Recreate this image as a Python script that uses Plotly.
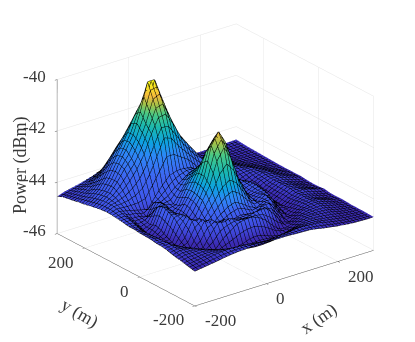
import plotly.graph_objects as go

x_m = [-200,-180,-160,-140,-120,-100,-80,-60,-40,-20,0,20,40,60,80,100,120,140,160,180,200,220,240,260,280,300]
y_m = [-200,-180,-160,-140,-120,-100,-80,-60,-40,-20,0,20,40,60,80,100,120,140,160,180,200,220,240,260,280,300]
power_dbm = [
[-44.65,-44.61,-44.57,-44.53,-44.48,-44.44,-44.41,-44.40,-44.38,-44.38,-44.38,-44.39,-44.39,-44.39,-44.41,-44.42,-44.43,-44.47,-44.53,-44.57,-44.62,-44.65,-44.68,-44.69,-44.70,-44.70],
[-44.60,-44.55,-44.51,-44.45,-44.40,-44.38,-44.37,-44.38,-44.40,-44.45,-44.48,-44.50,-44.47,-44.44,-44.42,-44.40,-44.39,-44.42,-44.44,-44.50,-44.56,-44.61,-44.65,-44.67,-44.69,-44.69],
[-44.55,-44.51,-44.47,-44.44,-44.43,-44.46,-44.52,-44.65,-44.72,-44.76,-44.79,-44.79,-44.77,-44.74,-44.68,-44.58,-44.50,-44.46,-44.45,-44.48,-44.52,-44.56,-44.62,-44.65,-44.68,-44.68],
[-44.51,-44.43,-44.43,-44.42,-44.47,-44.57,-44.72,-44.80,-44.76,-44.69,-44.59,-44.56,-44.62,-44.74,-44.81,-44.77,-44.68,-44.52,-44.46,-44.45,-44.47,-44.50,-44.57,-44.63,-44.66,-44.68],
[-44.46,-44.38,-44.41,-44.46,-44.59,-44.75,-44.75,-44.44,-44.24,-44.03,-43.96,-43.94,-44.04,-44.24,-44.54,-44.76,-44.76,-44.63,-44.50,-44.46,-44.44,-44.45,-44.53,-44.59,-44.65,-44.68],
[-44.40,-44.36,-44.44,-44.55,-44.74,-44.73,-44.32,-43.96,-43.88,-43.94,-44.05,-44.08,-43.99,-43.90,-44.00,-44.31,-44.68,-44.76,-44.60,-44.47,-44.44,-44.40,-44.47,-44.55,-44.63,-44.66],
[-44.36,-44.34,-44.48,-44.68,-44.75,-44.32,-43.88,-43.92,-44.23,-44.25,-44.16,-44.09,-44.13,-44.21,-44.00,-43.98,-44.33,-44.70,-44.72,-44.57,-44.44,-44.40,-44.43,-44.53,-44.61,-44.65],
[-44.35,-44.35,-44.57,-44.75,-44.48,-43.92,-43.90,-44.31,-44.23,-44.00,-43.80,-43.70,-43.85,-44.05,-44.17,-44.02,-44.03,-44.46,-44.74,-44.62,-44.46,-44.41,-44.48,-44.56,-44.63,-44.66],
[-44.31,-44.34,-44.64,-44.69,-44.15,-43.82,-44.22,-44.32,-43.95,-43.55,-43.15,-42.95,-43.15,-43.60,-44.00,-44.13,-43.96,-44.21,-44.64,-44.69,-44.51,-44.39,-44.45,-44.53,-44.61,-44.65],
[-44.30,-44.37,-44.66,-44.58,-43.92,-43.87,-44.36,-44.12,-43.60,-43.10,-42.25,-41.80,-42.30,-43.15,-43.75,-44.17,-44.04,-44.07,-44.53,-44.72,-44.54,-44.41,-44.39,-44.45,-44.54,-44.61],
[-44.29,-44.37,-44.67,-44.45,-43.81,-43.95,-44.36,-43.92,-43.50,-42.85,-41.75,-41.28,-41.80,-42.95,-43.65,-44.18,-44.09,-44.01,-44.45,-44.70,-44.52,-44.37,-44.42,-44.50,-44.59,-44.64],
[-44.26,-44.38,-44.63,-44.36,-43.71,-43.91,-44.28,-43.88,-43.45,-42.85,-42.10,-41.70,-42.15,-43.00,-43.65,-44.22,-44.10,-43.97,-44.41,-44.69,-44.52,-44.36,-44.41,-44.51,-44.59,-44.64],
[-44.26,-44.30,-44.55,-44.45,-43.85,-43.85,-44.20,-44.05,-43.50,-43.05,-42.70,-42.60,-42.80,-43.25,-43.80,-44.24,-44.04,-43.98,-44.43,-44.67,-44.50,-44.36,-44.41,-44.50,-44.59,-44.63],
[-44.22,-44.22,-44.45,-44.39,-44.20,-43.85,-44.05,-44.10,-43.70,-43.30,-43.00,-43.00,-43.20,-43.60,-44.00,-44.18,-43.93,-44.05,-44.50,-44.66,-44.49,-44.37,-44.37,-44.44,-44.53,-44.60],
[-44.19,-44.16,-44.34,-44.35,-44.45,-44.00,-44.05,-43.90,-43.65,-43.45,-43.25,-43.20,-43.47,-43.90,-44.15,-43.91,-43.79,-44.19,-44.59,-44.57,-44.42,-44.35,-44.37,-44.44,-44.54,-44.60],
[-44.16,-44.09,-44.16,-44.22,-44.30,-44.35,-43.95,-43.60,-43.30,-43.20,-43.20,-43.25,-43.55,-43.92,-43.88,-43.62,-43.67,-44.21,-44.63,-44.56,-44.41,-44.32,-44.37,-44.48,-44.54,-44.60],
[-44.15,-44.02,-44.00,-43.96,-43.85,-43.65,-43.20,-42.60,-41.95,-42.05,-42.43,-42.74,-43.05,-43.34,-43.28,-43.49,-44.03,-44.52,-44.57,-44.42,-44.35,-44.34,-44.40,-44.50,-44.58,-44.60],
[-44.17,-44.01,-43.88,-43.68,-43.39,-43.02,-42.52,-41.82,-41.27,-41.22,-41.67,-42.22,-42.62,-42.99,-43.37,-43.89,-44.39,-44.50,-44.41,-44.33,-44.32,-44.34,-44.45,-44.52,-44.58,-44.60],
[-44.21,-44.02,-43.81,-43.46,-43.05,-42.72,-42.17,-41.53,-40.67,-40.54,-41.30,-41.99,-42.66,-43.31,-43.85,-44.18,-44.26,-44.30,-44.23,-44.25,-44.31,-44.40,-44.48,-44.55,-44.58,-44.59],
[-44.25,-44.07,-43.84,-43.46,-42.95,-42.49,-41.99,-41.19,-40.10,-40.10,-41.33,-42.18,-42.82,-43.27,-43.72,-44.03,-44.11,-44.15,-44.18,-44.26,-44.35,-44.44,-44.52,-44.56,-44.58,-44.58],
[-44.30,-44.13,-43.90,-43.52,-43.02,-42.53,-42.02,-41.40,-40.95,-41.00,-41.57,-42.23,-42.77,-43.22,-43.61,-43.86,-44.02,-44.11,-44.21,-44.32,-44.41,-44.48,-44.54,-44.56,-44.57,-44.57],
[-44.33,-44.21,-44.01,-43.72,-43.26,-42.79,-42.35,-41.93,-41.65,-41.67,-41.98,-42.38,-42.81,-43.24,-43.63,-43.87,-44.05,-44.16,-44.29,-44.40,-44.48,-44.53,-44.56,-44.57,-44.57,-44.56],
[-44.38,-44.28,-44.15,-43.92,-43.58,-43.15,-42.78,-42.51,-42.30,-42.30,-42.50,-42.75,-43.08,-43.47,-43.79,-44.00,-44.12,-44.25,-44.37,-44.46,-44.52,-44.55,-44.57,-44.57,-44.56,-44.55],
[-44.42,-44.34,-44.22,-44.10,-43.89,-43.58,-43.28,-43.03,-42.91,-42.90,-42.99,-43.21,-43.50,-43.79,-43.97,-44.12,-44.25,-44.34,-44.44,-44.51,-44.54,-44.56,-44.56,-44.56,-44.55,-44.54],
[-44.46,-44.40,-44.32,-44.24,-44.11,-43.97,-43.78,-43.60,-43.46,-43.45,-43.55,-43.69,-43.87,-44.01,-44.15,-44.24,-44.33,-44.42,-44.48,-44.53,-44.55,-44.55,-44.55,-44.54,-44.53,-44.52],
[-44.55,-44.45,-44.39,-44.33,-44.25,-44.17,-44.06,-43.99,-43.95,-43.95,-43.98,-44.05,-44.15,-44.23,-44.30,-44.36,-44.42,-44.48,-44.52,-44.54,-44.54,-44.54,-44.53,-44.52,-44.51,-44.50],
]
# colour lift (x -40..80, y -60..60)
peak2_x = [-40,-20,0,20,40,60,80]
peak2_y = [-60,-40,-20,0,20,40,60]
peak2_colour_lift = [
[0.3,0.6,0.85,0.9,0.85,0.6,0.3],
[0.6,0.95,1.1,1.1,1.1,0.95,0.6],
[0.85,1.1,0.9,0.8,0.9,1.1,0.85],
[0.9,1.1,0.8,0.7,0.8,1.1,0.9],
[0.85,1.1,0.9,0.8,0.9,1.1,0.85],
[0.6,0.95,1.1,1.1,1.1,0.95,0.6],
[0.3,0.6,0.85,0.9,0.85,0.6,0.3],
]
parula_stops = [
[0.0,"#3E26A8"],[0.08,"#3B2BB4"],[0.13,"#3F42D4"],[0.2,"#3F58EC"],[0.35,"#3D66F2"],[0.49,"#2E87F7"],[0.59,"#0DA2E0"],
[0.69,"#1AB8B0"],[0.775,"#48C986"],[0.84,"#A0C24A"],[0.9,"#F5BA3C"],[1.0,"#F9FB15"],
]
x_ticks = [-200,0,200]
y_ticks = [-200,0,200]
z_ticks = [-46,-44,-42,-40]
x_range = [-200,300]
y_range = [-200,300]
z_range = [-46,-40]
FONT = "Liberation Serif"
TXT = "#3a3a3a"
TICK_FONT = dict(family=FONT, size=17, color=TXT)
TITLE_FONT = dict(family=FONT, size=18, color=TXT)

colour_values = [row[:] for row in power_dbm]
for j, py in enumerate(peak2_y):
    for i, px in enumerate(peak2_x):
        colour_values[y_m.index(py)][x_m.index(px)] += peak2_colour_lift[j][i]

fig = go.Figure(go.Surface(
    x=x_m, y=y_m, z=power_dbm, surfacecolor=colour_values,
    colorscale=parula_stops, cmin=-45, cmax=-40.1, showscale=False,
    hoverinfo="skip",
    lighting=dict(ambient=1, diffuse=0, specular=0, fresnel=0, roughness=1),
    contours=dict(
        x=dict(show=True, start=-200, end=300, size=10, color="black", width=1, highlight=False),
        y=dict(show=True, start=-200, end=300, size=10, color="black", width=1, highlight=False),
        z=dict(highlight=False),
    ),
))

def axis(ticks, rng, line="#555555", lw=1):
    return dict(
        title=dict(text=""),
        range=rng, tickvals=ticks, showticklabels=False,
        showbackground=False, gridcolor="#e4e4e4", gridwidth=1,
        showline=True, linecolor=line, linewidth=lw, zeroline=False,
        showspikes=False, ticks="outside", ticklen=3, tickcolor="#555555",
    )

scene_labels = []
for t in x_ticks:
    scene_labels.append(dict(x=t, y=y_range[0], z=z_range[0], text=str(t), showarrow=False,
                             xanchor="left", yanchor="middle", xshift=8, yshift=-15, font=TICK_FONT))
for t in y_ticks:
    scene_labels.append(dict(x=x_range[0], y=t, z=z_range[0], text=str(t), showarrow=False,
                             xanchor="right", yanchor="middle", xshift=-9, yshift=-14, font=TICK_FONT))
for t in z_ticks:
    scene_labels.append(dict(x=x_range[0], y=y_range[1], z=t, text=str(t), showarrow=False,
                             xanchor="right", yanchor="middle", xshift=-9, yshift=3, font=TICK_FONT))
scene_labels.append(dict(x=100, y=y_range[0], z=z_range[0], text="x (m)", showarrow=False, textangle=-35,
                         xanchor="center", yanchor="middle", xshift=17, yshift=-46, font=TITLE_FONT))
scene_labels.append(dict(x=x_range[0], y=200, z=z_range[0], text="y (m)", showarrow=False, textangle=30,
                         xanchor="center", yanchor="middle", xshift=-5, yshift=-65, font=TITLE_FONT))

fig.update_layout(
    width=415, height=342, margin=dict(l=0, r=0, t=0, b=0),
    paper_bgcolor="white",
    scene=dict(
        xaxis=axis(x_ticks, x_range),
        yaxis=axis(y_ticks, y_range),
        zaxis=axis(z_ticks, z_range, line="#aaaaaa", lw=2),
        aspectmode="manual", aspectratio=dict(x=1.32, y=1.32, z=0.985),
        camera=dict(
            projection=dict(type="orthographic"),
            eye=dict(x=-1.116, y=-1.452, z=0.72),
            center=dict(x=0, y=0, z=-0.09),
            up=dict(x=0, y=0, z=1),
        ),
        domain=dict(x=[0,1], y=[0,1]),
        annotations=scene_labels,
    ),
    annotations=[dict(text="Power (dBm)", textangle=-90, x=13/415, y=1-157/342, xref="paper", yref="paper",
                      xanchor="center", yanchor="middle", showarrow=False, font=TITLE_FONT)],
)
fig.write_html("out.html")
